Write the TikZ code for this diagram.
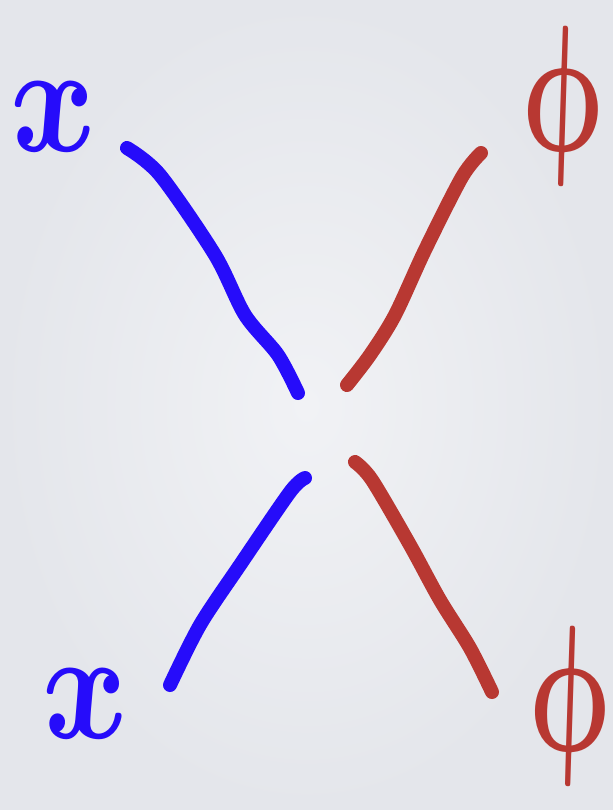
\documentclass[tikz,border=0pt]{standalone}
\usepackage{amsmath,amssymb}
\usepackage{tikz}
\usetikzlibrary{positioning,calc}
\usepackage{xcolor}
\definecolor{penblue}{RGB}{38,12,250}
\definecolor{penred}{RGB}{184,56,50}
\definecolor{paperin}{RGB}{241,242,245}
\definecolor{paperout}{RGB}{228,230,235}

\begin{document}
\begin{tikzpicture}[
    x=0.75pt, y=-0.75pt,
    stroke/.style={line width=10.5pt, line cap=round, line join=round},
    chiline/.style={stroke, draw=penblue},
    philine/.style={stroke, draw=penred},
    label/.style={inner sep=0pt, font=\Huge\boldmath, transform shape},
    chilabel/.style={label, text=penblue, xscale=4, yscale=4.7, xslant=-0.15},
    philabel/.style={label, text=penred, xscale=3.4, yscale=5.4, xslant=-0.2}
]
    % paper
    \shade[inner color=paperin, outer color=paperout] (0,0) rectangle (613,810);
    \useasboundingbox (0,0) rectangle (613,810);

    % labels
    \node[chilabel] (xtop) at (54,117) {$x$};
    \node[chilabel] (xbot) at (86,704) {$x$};
    \node[philabel] (phitop) at (561,106) {$\phi$};
    \node[philabel] (phibot) at (568,706) {$\phi$};

    % line ends
    \coordinate (b1) at (127,148);
    \coordinate (b2) at (298,393);
    \coordinate (b3) at (305,478);
    \coordinate (b4) at (170,685);
    \coordinate (r1) at (481,153);
    \coordinate (r2) at (347,385);
    \coordinate (r3) at (355,462);
    \coordinate (r4) at (492,692);

    \draw[chiline] plot[smooth, tension=0.5] coordinates {(b1) (160,175) (215,255) (245,315) (278,355) (b2)};
    \draw[chiline] plot[smooth, tension=0.5] coordinates {(b3) (290,492) (240,565) (200,625) (b4)};
    \draw[philine] plot[smooth, tension=0.5] coordinates {(r1) (462,177) (425,250) (395,315) (370,355) (r2)};
    \draw[philine] plot[smooth, tension=0.5] coordinates {(r3) (372,480) (410,545) (440,600) (470,648) (r4)};
\end{tikzpicture}
\end{document}
